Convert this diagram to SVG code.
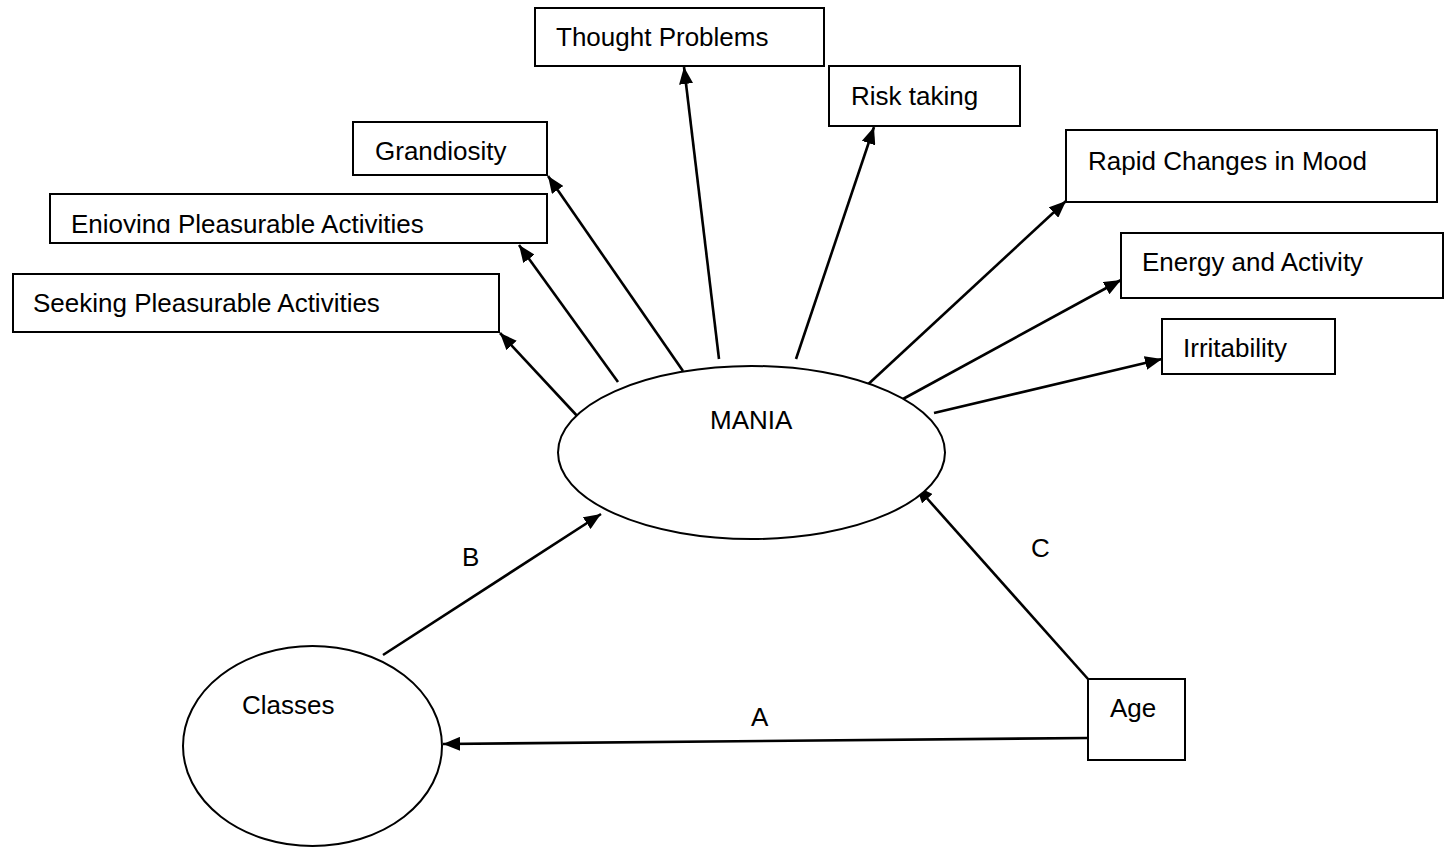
<svg xmlns="http://www.w3.org/2000/svg" width="1444" height="847" viewBox="0 0 1444 847">
<style>
  .box { fill: #fff; stroke: #000; stroke-width: 2; }
  .ell { fill: #fff; stroke: #000; stroke-width: 2; }
  .lbl { font-family: "Liberation Sans", Arial, sans-serif; font-size: 26px; fill: #000; }
  .conn { stroke: #000; stroke-width: 2.6; fill: none; marker-end: url(#arr); }
  .plain { stroke: #000; stroke-width: 2.6; fill: none; }
</style>
<defs>
  <marker id="arr" markerUnits="userSpaceOnUse" markerWidth="18" markerHeight="14" refX="17" refY="7" orient="auto">
    <path d="M0,0 L17,7 L0,14 z" fill="#000"/>
  </marker>
  <clipPath id="clipEnjoy">
    <rect x="49" y="190" width="500" height="43"/>
  </clipPath>
</defs>
<rect width="1444" height="847" fill="#fff"/>

<g id="connectors">
  <line class="conn" x1="580" y1="419" x2="500" y2="333"/>
  <line class="conn" x1="618" y1="382" x2="519" y2="245"/>
  <line class="conn" x1="683" y1="371" x2="548" y2="176"/>
  <line class="conn" x1="719" y1="359" x2="684" y2="67"/>
  <line class="conn" x1="796" y1="359" x2="874" y2="127"/>
  <line class="conn" x1="863" y1="389" x2="1066" y2="201"/>
  <line class="conn" x1="903" y1="399" x2="1121" y2="280"/>
  <line class="conn" x1="934" y1="413" x2="1162" y2="359"/>
  <line class="conn" x1="383" y1="655" x2="601" y2="514"/>
  <line class="conn" x1="1088" y1="679" x2="916" y2="486"/>
  <line class="conn" x1="1088" y1="738" x2="443" y2="744"/>
  <text class="lbl" x="462" y="566">B</text>
  <text class="lbl" x="1031" y="557">C</text>
  <text class="lbl" x="751" y="726">A</text>
</g>

<g id="thought">
  <rect class="box" x="535" y="8" width="289" height="58"/>
  <text class="lbl" x="556" y="46">Thought Problems</text>
</g>
<g id="risk">
  <rect class="box" x="829" y="66" width="191" height="60"/>
  <text class="lbl" x="851" y="105">Risk taking</text>
</g>
<g id="grandiosity">
  <rect class="box" x="353" y="122" width="194" height="53"/>
  <text class="lbl" x="375" y="160">Grandiosity</text>
</g>
<g id="enjoying">
  <rect class="box" x="50" y="194" width="497" height="49"/>
  <text class="lbl" x="71" y="233" clip-path="url(#clipEnjoy)">Enjoying Pleasurable Activities</text>
</g>
<g id="seeking">
  <rect class="box" x="13" y="274" width="486" height="58"/>
  <text class="lbl" x="33" y="312">Seeking Pleasurable Activities</text>
</g>
<g id="rapid">
  <rect class="box" x="1066" y="130" width="371" height="72"/>
  <text class="lbl" x="1088" y="170">Rapid Changes in Mood</text>
</g>
<g id="energy">
  <rect class="box" x="1121" y="233" width="322" height="65"/>
  <text class="lbl" x="1142" y="271">Energy and Activity</text>
</g>
<g id="irritability">
  <rect class="box" x="1162" y="319" width="173" height="55"/>
  <text class="lbl" x="1183" y="357">Irritability</text>
</g>
<g id="mania">
  <ellipse class="ell" cx="751.5" cy="452.5" rx="193.5" ry="86.5"/>
  <text class="lbl" x="710" y="429">MANIA</text>
</g>
<g id="classes">
  <ellipse class="ell" cx="312.5" cy="746" rx="129.5" ry="100"/>
  <text class="lbl" x="242" y="714">Classes</text>
</g>
<g id="age">
  <rect class="box" x="1088" y="679" width="97" height="81"/>
  <text class="lbl" x="1110" y="717">Age</text>
</g>
</svg>
